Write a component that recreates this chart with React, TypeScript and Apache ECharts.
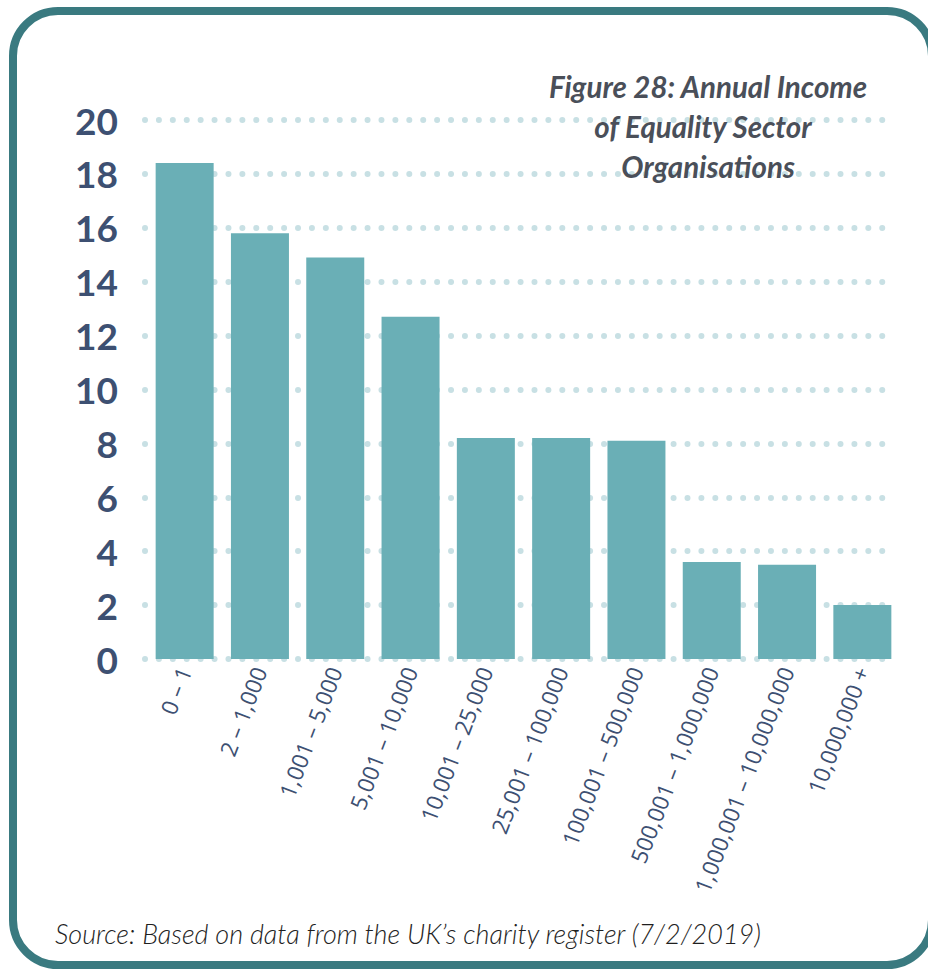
import React, { useEffect, useRef } from "react";
import * as echarts from "echarts";

const categories = [
  "0 \u2013 1",
  "2 \u2013 1,000",
  "1,001 \u2013 5,000",
  "5,001 \u2013 10,000",
  "10,001 \u2013 25,000",
  "25,001 \u2013 100,000",
  "100,001 \u2013 500,000",
  "500,001 \u2013 1,000,000",
  "1,000,001 \u2013 10,000,000",
  "10,000,000 +",
];
const values = [18.4, 15.8, 14.9, 12.7, 8.2, 8.2, 8.1, 3.6, 3.5, 2.0];
const titleLines = ["Figure 28: Annual Income", "of Equality Sector", "Organisations"];
const sourceText = "Source: Based on data from the UK\u2019s charity register (7/2/2019)";

export default function App() {
  const ref = useRef<HTMLDivElement>(null);
  useEffect(() => {
    document.body.style.margin = "0";
    const chart = echarts.init(ref.current!, null, { renderer: "svg" });
    const navy = "#3d5072";
    chart.setOption({
      animation: false,
      backgroundColor: "#ffffff",
      grid: [
        { left: 145, right: 45, top: 120, bottom: 310 },
        { left: 147, right: 28, top: 120, bottom: 310 },
      ],
      xAxis: [
        { type: "value", gridIndex: 0, show: false, min: 0, max: 1 },
        {
          type: "category",
          gridIndex: 1,
          data: categories,
          axisLine: { show: false },
          axisTick: { show: false },
          axisLabel: {
            rotate: 69,
            margin: 9,
            interval: 0,
            color: navy,
            fontSize: 22.5,
            fontWeight: "normal",
            padding: [36, 0, 0, 0],
            fontFamily: "'Open Sans', Lato, sans-serif",
          },
        },
      ],
      yAxis: [
        {
          type: "value",
          gridIndex: 0,
          min: 0,
          max: 20,
          interval: 2,
          axisLine: { show: false },
          axisTick: { show: false },
          axisLabel: {
            margin: 27,
            color: navy,
            fontSize: 37,
            fontWeight: "bold",
            fontFamily: "Lato, 'Open Sans', sans-serif",
          },
          splitLine: {
            show: true,
            lineStyle: { color: "#c8e0e4", width: 6, type: [0.01, 13.9], cap: "round" },
          },
        },
        { type: "value", gridIndex: 1, min: 0, max: 20, interval: 2, show: false, splitLine: { show: false } },
      ],
      series: [
        {
          type: "bar",
          xAxisIndex: 1,
          yAxisIndex: 1,
          data: values,
          barWidth: 58,
          itemStyle: { color: "#6aafb6" },
          z: 3,
        },
      ],
      graphic: [
        {
          type: "rect",
          shape: { x: 13, y: 11, width: 919, height: 954, r: 45 },
          style: { fill: "none", stroke: "#3a7a80", lineWidth: 8 },
          z: 10,
        },
        ...titleLines.map((t, i) => ({
          type: "text",
          x: i === 1 ? 703 : 708,
          y: 86 + i * 40,
          z: 5,
          style: {
            text: t,
            fill: "#4a4f59",
            font: "italic bold 29.5px Lato, 'Open Sans', sans-serif",
            align: "center",
            verticalAlign: "middle",
          },
        })),
        {
          type: "text",
          x: 55,
          y: 933,
          z: 5,
          style: {
            text: sourceText,
            fill: "#1f1f1f",
            font: "italic 300 27px Lato, 'Open Sans', sans-serif",
            align: "left",
            verticalAlign: "middle",
          },
        },
      ],
    });
    return () => chart.dispose();
  }, []);
  return <div ref={ref} style={{ width: 928, height: 969 }} />;
}
